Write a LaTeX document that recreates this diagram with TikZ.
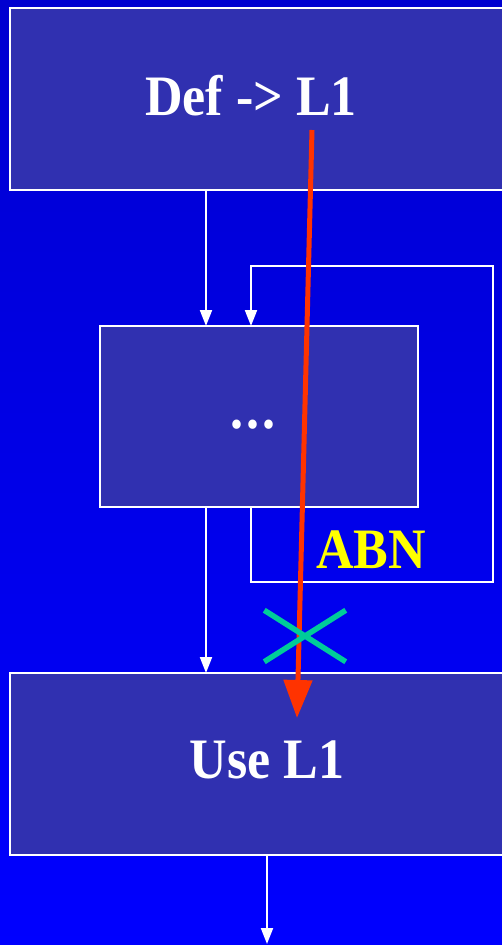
\documentclass[tikz,border=0pt]{standalone}
\usepackage{fontspec}
\setmainfont{Liberation Serif}
\usetikzlibrary{arrows.meta,shapes.misc}
\definecolor{boxfill}{RGB}{48,48,176}
\definecolor{bgtop}{RGB}{0,0,208}
\definecolor{bgbot}{RGB}{0,0,255}
\definecolor{redline}{RGB}{255,51,0}
\definecolor{crossc}{RGB}{0,204,153}
\definecolor{abn}{RGB}{255,255,0}
\newcommand\stretchtxt[1]{\scalebox{1}[1.1]{#1}}
\begin{document}
\begin{tikzpicture}[x=1pt,y=-1pt,
  box/.style={draw=white,line width=2pt,fill=boxfill,inner sep=0pt,outer sep=0pt,anchor=north west},
  wl/.style={draw=white,line width=2pt},
  wa/.style={wl,-{Triangle[width=12pt,length=16pt]}},
  lbl/.style={text=white,inner sep=0pt,font=\fontsize{52}{56}\selectfont\bfseries},
]
\useasboundingbox (0,0) rectangle (502,945);
\fill[top color=bgtop,bottom color=bgbot] (0,0) rectangle (502,945);

% boxes
\node[box,minimum width=520pt,minimum height=182pt] (top) at (10,8) {};
\node[box,minimum width=318pt,minimum height=181pt] (mid) at (100,326) {};
\node[box,minimum width=520pt,minimum height=182pt] (bot) at (10,673) {};

% labels
\node[lbl] (t1) at (251,96) {\stretchtxt{Def -> L1}};
\node[lbl] (t2) at (253,425) {\stretchtxt{.\kern3pt.\kern3pt.}};
\node[lbl] (t3) at (267,760) {\stretchtxt{Use L1}};
\node[lbl,text=abn] (t4) at (371,550) {\stretchtxt{ABN}};

% helper coordinates
\coordinate (c1) at (206,0);
\coordinate (lb) at (251,582);
\coordinate (rb) at (493,582);
\coordinate (rt) at (493,266);
\coordinate (lt) at (251,266);
\coordinate (out) at (267,944);

% white connectors
\draw[wa] (top.south -| c1) -- (mid.north -| c1);
\draw[wa] (mid.south -| c1) -- (bot.north -| c1);
\draw[wa] (mid.south -| lb) -- (lb) -- (rb) -- (rt) -- (lt) -- (mid.north -| lt);
\draw[wa] (bot.south -| out) -- (out);

% red flow
\coordinate (rs) at (312,130);
\coordinate (re) at (297,718);
\draw[draw=redline,line width=5pt,-{Triangle[width=28pt,length=38pt]}] (rs) -- (re);

% green cross
\node[cross out,draw=crossc,line width=5.5pt,minimum width=76pt,minimum height=46pt,inner sep=0pt] (x) at (305,636) {};
\end{tikzpicture}
\end{document}
